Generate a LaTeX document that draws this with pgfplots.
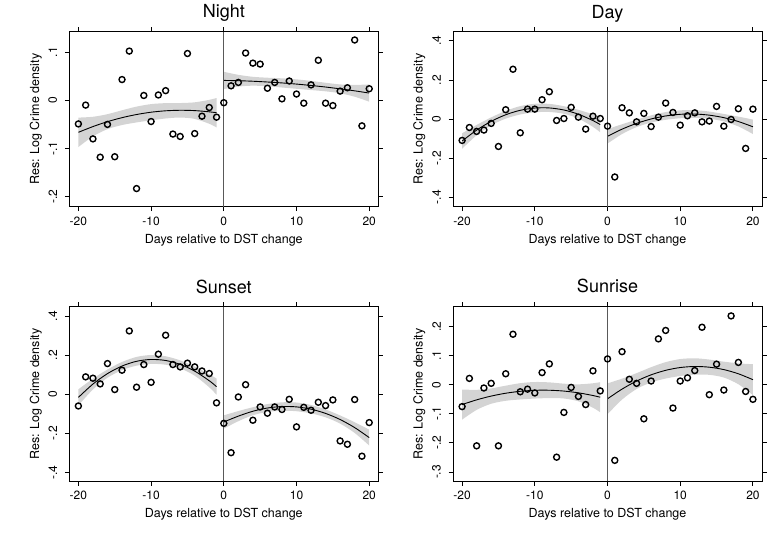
\documentclass[border=0pt]{standalone}
\usepackage{fontspec}
\setmainfont{TeX Gyre Heros}
\usepackage{pgfplots}
\usepackage{pgfplotstable}
\usepgfplotslibrary{fillbetween}
\pgfplotsset{compat=1.18}
\definecolor{bandc}{gray}{0.83}
\definecolor{vline}{gray}{0.35}

\pgfplotstableread{
x night day sunset sunrise
-20 -0.049 -0.109 -0.060 -0.075
-19 -0.010 -0.043 0.089 0.022
-18 -0.080 -0.063 0.082 -0.210
-17 -0.118 -0.056 0.053 -0.011
-16 -0.050 -0.022 0.157 0.005
-15 -0.117 -0.140 0.024 -0.210
-14 0.043 0.048 0.123 0.038
-13 0.102 0.255 0.324 0.174
-12 -0.183 -0.070 0.036 -0.024
-11 0.010 0.051 0.152 -0.015
-10 -0.044 0.051 0.061 -0.028
-9 0.011 0.099 0.205 0.042
-8 0.020 0.140 0.302 0.072
-7 -0.070 -0.007 0.152 -0.249
-6 -0.075 0.003 0.140 -0.095
-5 0.097 0.060 0.159 -0.009
-4 -0.069 0.010 0.140 -0.040
-3 -0.033 -0.051 0.119 -0.068
-2 -0.015 0.015 0.106 0.048
-1 -0.035 0.003 -0.044 -0.021
0 -0.005 -0.036 -0.149 0.089
1 0.030 -0.296 -0.299 -0.260
2 0.037 0.058 -0.014 0.114
3 0.098 0.032 0.049 0.019
4 0.077 -0.014 -0.133 0.005
5 0.075 0.029 -0.065 -0.117
6 0.025 -0.038 -0.097 0.013
7 0.037 0.010 -0.065 0.158
8 0.003 0.082 -0.078 0.187
9 0.040 0.034 -0.026 -0.080
10 0.013 -0.031 -0.167 0.013
11 -0.006 0.017 -0.067 0.024
12 0.032 0.032 -0.082 0.049
13 0.083 -0.014 -0.041 0.198
14 -0.006 -0.010 -0.058 -0.034
15 -0.011 0.065 -0.029 0.071
16 0.019 -0.036 -0.239 -0.018
17 0.026 -0.002 -0.256 0.237
18 0.125 0.053 -0.027 0.077
19 -0.053 -0.150 -0.317 -0.023
20 0.024 0.051 -0.145 -0.050
}\pts

\pgfplotstableread{
x c up lo
-20 -0.0664 -0.0359 -0.0969
-18 -0.0545 -0.0342 -0.0748
-16 -0.0443 -0.0288 -0.0598
-14 -0.0360 -0.0207 -0.0513
-12 -0.0295 -0.0131 -0.0459
-10 -0.0247 -0.0079 -0.0415
-8 -0.0218 -0.0059 -0.0377
-6 -0.0207 -0.0057 -0.0357
-4 -0.0214 -0.0042 -0.0386
-2 -0.0239 0.0009 -0.0487
-1 -0.0258 0.0047 -0.0563
}\NL
\pgfplotstableread{
x c up lo
0 0.0412 0.0591 0.0233
2 0.0406 0.0528 0.0284
4 0.0395 0.0487 0.0303
6 0.0379 0.0468 0.0290
8 0.0360 0.0455 0.0265
10 0.0336 0.0434 0.0238
12 0.0307 0.0402 0.0212
14 0.0275 0.0364 0.0186
16 0.0237 0.0329 0.0145
18 0.0196 0.0318 0.0074
20 0.0150 0.0329 -0.0029
}\NR
\pgfplotstableread{
x c up lo
-20 -0.1122 -0.0726 -0.1518
-18 -0.0563 -0.0299 -0.0827
-16 -0.0115 0.0087 -0.0317
-14 0.0223 0.0422 0.0024
-12 0.0450 0.0664 0.0236
-10 0.0566 0.0784 0.0348
-8 0.0571 0.0778 0.0364
-6 0.0466 0.0661 0.0271
-4 0.0250 0.0473 0.0027
-2 -0.0076 0.0246 -0.0398
-1 -0.0281 0.0115 -0.0677
}\DL
\pgfplotstableread{
x c up lo
0 -0.0881 -0.0511 -0.1251
2 -0.0514 -0.0263 -0.0765
4 -0.0219 -0.0029 -0.0409
6 0.0007 0.0191 -0.0177
8 0.0161 0.0358 -0.0036
10 0.0245 0.0448 0.0042
12 0.0259 0.0456 0.0062
14 0.0202 0.0386 0.0018
16 0.0074 0.0264 -0.0116
18 -0.0124 0.0127 -0.0375
20 -0.0393 -0.0023 -0.0763
}\DR
\pgfplotstableread{
x c up lo
-20 -0.0161 0.0253 -0.0575
-18 0.0521 0.0797 0.0245
-16 0.1056 0.1267 0.0845
-14 0.1444 0.1652 0.1236
-12 0.1686 0.1910 0.1462
-10 0.1780 0.2008 0.1552
-8 0.1728 0.1944 0.1512
-6 0.1529 0.1733 0.1325
-4 0.1183 0.1417 0.0949
-2 0.0691 0.1028 0.0354
-1 0.0389 0.0803 -0.0025
}\SL
\pgfplotstableread{
x c up lo
0 -0.1420 -0.1080 -0.1760
2 -0.1120 -0.0860 -0.1380
4 -0.0870 -0.0665 -0.1075
6 -0.0705 -0.0505 -0.0905
8 -0.0629 -0.0413 -0.0845
10 -0.0647 -0.0424 -0.0870
12 -0.0764 -0.0548 -0.0980
14 -0.0980 -0.0779 -0.1181
16 -0.1294 -0.1085 -0.1503
18 -0.1707 -0.1432 -0.1982
20 -0.2218 -0.1812 -0.2624
}\SR
\pgfplotstableread{
x c up lo
-20 -0.0680 -0.0162 -0.1198
-18 -0.0518 -0.0173 -0.0863
-16 -0.0388 -0.0124 -0.0652
-14 -0.0290 -0.0030 -0.0550
-12 -0.0224 0.0056 -0.0504
-10 -0.0189 0.0096 -0.0474
-8 -0.0187 0.0083 -0.0457
-6 -0.0216 0.0039 -0.0471
-4 -0.0276 0.0016 -0.0568
-2 -0.0369 0.0052 -0.0790
-1 -0.0427 0.0091 -0.0945
}\RL
\pgfplotstableread{
x c up lo
0 -0.0482 0.0049 -0.1013
2 -0.0148 0.0212 -0.0508
4 0.0128 0.0401 -0.0145
6 0.0343 0.0606 0.0080
8 0.0498 0.0780 0.0216
10 0.0594 0.0886 0.0302
12 0.0630 0.0912 0.0348
14 0.0606 0.0869 0.0343
16 0.0523 0.0796 0.0250
18 0.0379 0.0739 0.0019
20 0.0176 0.0707 -0.0355
}\RR

\newcommand{\band}[2]{%
  \addplot[name path=#2U, draw=none, smooth, forget plot] table[x=x,y=up]{#1};
  \addplot[name path=#2L, draw=none, smooth, forget plot] table[x=x,y=lo]{#1};
  \addplot[fill=bandc, draw=none, forget plot] fill between[of=#2U and #2L];
  \addplot[black, line width=0.9pt, smooth, forget plot] table[x=x,y=c]{#1};
}

\pgfplotsset{
  panel/.style={
    scale only axis, width=309pt,
    anchor=south west,
    xmin=-21.25, xmax=21.25,
    axis line style={black, line width=0.9pt},
    tick align=outside,
    major tick style={black, line width=0.9pt},
    major tick length=4.5pt,
    xtick={-20,-10,0,10,20}, xticklabels={-20,-10,0,10,20},
    ticklabel style={font=\fontsize{12}{14}\selectfont},
    xticklabel style={anchor=base, yshift=-13.8pt},
    yticklabel style={rotate=90, anchor=south, inner sep=0pt},
    yticklabel shift=7.5pt,
    xlabel={Days relative to DST change},
    ylabel={Res: Log Crime density},
    label style={font=\fontsize{12.5}{15}\selectfont},
    xlabel style={at={(axis description cs:0.5,-0.209)}, anchor=base},
    ylabel style={at={(axis description cs:-0.098,0.5)}, anchor=base},
    title style={at={(axis description cs:0.5,1)}, anchor=base, yshift=7.7pt, font=\fontsize{18}{21}\selectfont},
  },
  pts/.style={only marks, mark=o, mark size=3.0pt, mark options={line width=1.4pt, black}},
  zl/.style={vline, line width=0.9pt},
}

\begin{document}
\begin{tikzpicture}

\begin{axis}[panel, height=175pt, at={(69.3pt,332.3pt)}, title={Night},
  ymin=-0.2206, ymax=0.1422, ytick={-0.2,-0.1,0,0.1}, yticklabels={-.2,-.1,0,.1}]
\band{\NL}{nl}
\band{\NR}{nr}
\addplot[zl] coordinates {(0,-0.2206) (0,0.1422)};
\addplot[pts] table[x=x,y=night]{\pts};
\end{axis}

\begin{axis}[panel, height=175pt, at={(453pt,332.3pt)}, title={Day},
  ymin=-0.448, ymax=0.447, ytick={-0.4,-0.2,0,0.2,0.4}, yticklabels={-.4,-.2,0,.2,.4}]
\band{\DL}{dl}
\band{\DR}{dr}
\addplot[zl] coordinates {(0,-0.448) (0,0.447)};
\addplot[pts] table[x=x,y=day]{\pts};
\end{axis}

\begin{axis}[panel, height=174.3pt, at={(69.3pt,58pt)}, title={Sunset},
  ymin=-0.444, ymax=0.448, ytick={-0.4,-0.2,0,0.2,0.4}, yticklabels={-.4,-.2,0,.2,.4}]
\band{\SL}{sl}
\band{\SR}{sr}
\addplot[zl] coordinates {(0,-0.444) (0,0.448)};
\addplot[pts] table[x=x,y=sunset]{\pts};
\end{axis}

\begin{axis}[panel, height=174.3pt, at={(453pt,58pt)}, title={Sunrise},
  ymin=-0.331, ymax=0.2687, ytick={-0.3,-0.2,-0.1,0,0.1,0.2}, yticklabels={-.3,-.2,-.1,0,.1,.2}]
\band{\RL}{rl}
\band{\RR}{rr}
\addplot[zl] coordinates {(0,-0.331) (0,0.2687)};
\addplot[pts] table[x=x,y=sunrise]{\pts};
\end{axis}

\pgfresetboundingbox
\path[use as bounding box] (0,0) rectangle (783pt,539pt);
\end{tikzpicture}
\end{document}
